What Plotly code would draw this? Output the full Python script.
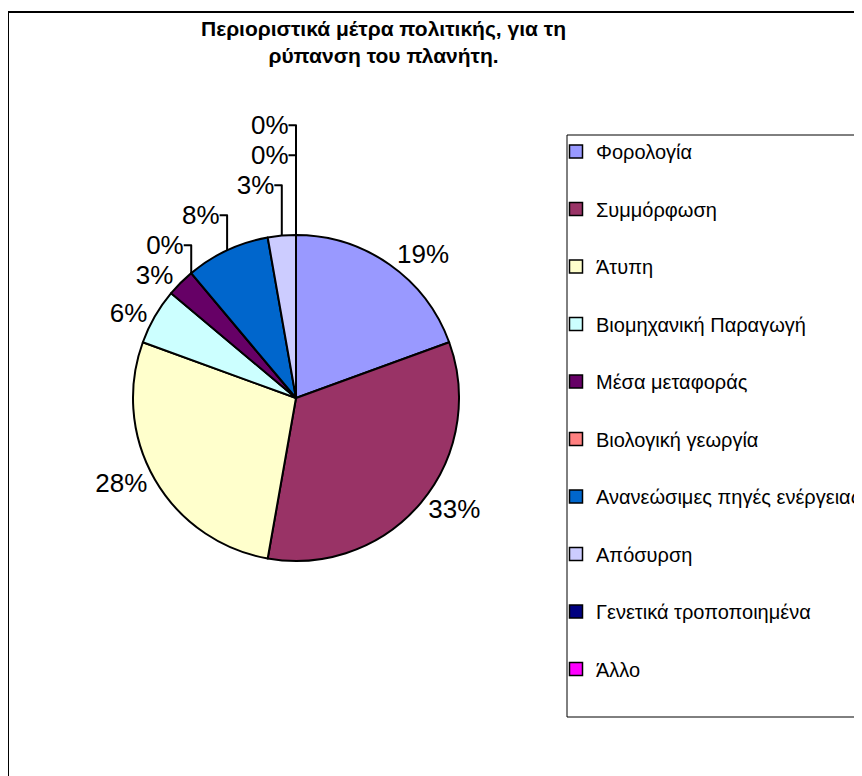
import plotly.graph_objects as go

# survey answers (counts), shown as rounded percentages
categories = [
    "Φορολογία",
    "Συμμόρφωση",
    "Άτυπη",
    "Βιομηχανική Παραγωγή",
    "Μέσα μεταφοράς",
    "Βιολογική γεωργία",
    "Ανανεώσιμες πηγές ενέργειας",
    "Απόσυρση",
    "Γενετικά τροποποιημένα",
    "Άλλο",
]
counts = [7, 12, 10, 2, 1, 0, 3, 1, 0, 0]
colors = ["#9999FF", "#993366", "#FFFFCC", "#CCFFFF", "#660066",
          "#FF8080", "#0066CC", "#CCCCFF", "#000080", "#FF00FF"]

W, H = 862, 776
OFF = 8  # page body margin
FONT = "Liberation Sans, Arial"


def px(x):
    return (x - OFF) / W


def py(y):
    return 1 - (y - OFF) / H


cx, cy, r = 296, 398, 163

fig = go.Figure()
fig.add_trace(go.Pie(
    labels=categories,
    values=counts,
    sort=False,
    direction="clockwise",
    rotation=0,
    marker=dict(colors=colors, line=dict(color="black", width=2)),
    texttemplate="%{percent:.0%}",
    textposition="outside",
    textfont=dict(family=FONT, size=26, color="black"),
    domain=dict(x=[px(cx - r), px(cx + r)], y=[py(cy + r), py(cy - r)]),
    hoverinfo="label+percent",
    showlegend=False,
))

# legend entries, one group each so the spacing can be opened up
for name, col in zip(categories, colors):
    fig.add_trace(go.Scatter(
        x=[None], y=[None], mode="markers", name=name,
        legendgroup=name,
        marker=dict(symbol="square", size=13, color=col,
                    line=dict(color="black", width=1.5)),
    ))

fig.update_layout(
    width=W, height=H,
    margin=dict(l=0, r=0, t=0, b=0),
    paper_bgcolor="white", plot_bgcolor="white",
    xaxis=dict(visible=False), yaxis=dict(visible=False),
    title=dict(
        text="Περιοριστικά μέτρα πολιτικής, για τη<br>ρύπανση του πλανήτη.",
        x=px(383.5), xanchor="center", y=py(36), yanchor="middle",
        font=dict(family=FONT, size=21, color="black", weight="bold"),
    ),
    legend=dict(
        x=px(556), xanchor="left", y=py(132), yanchor="top",
        borderwidth=0, bgcolor="rgba(0,0,0,0)",
        font=dict(family=FONT, size=20, color="black"),
        tracegroupgap=28.5, maxheight=1,
        itemclick=False, itemdoubleclick=False,
    ),
    shapes=[
        # chart frame
        dict(type="rect", xref="paper", yref="paper",
             x0=px(8), x1=1.2, y0=-0.2, y1=py(12),
             line=dict(color="black", width=2)),
        # legend box
        dict(type="rect", xref="paper", yref="paper",
             x0=px(567), x1=1.2, y0=py(717), y1=py(135),
             line=dict(color="black", width=1)),
    ],
)

fig.write_html("out.html")
